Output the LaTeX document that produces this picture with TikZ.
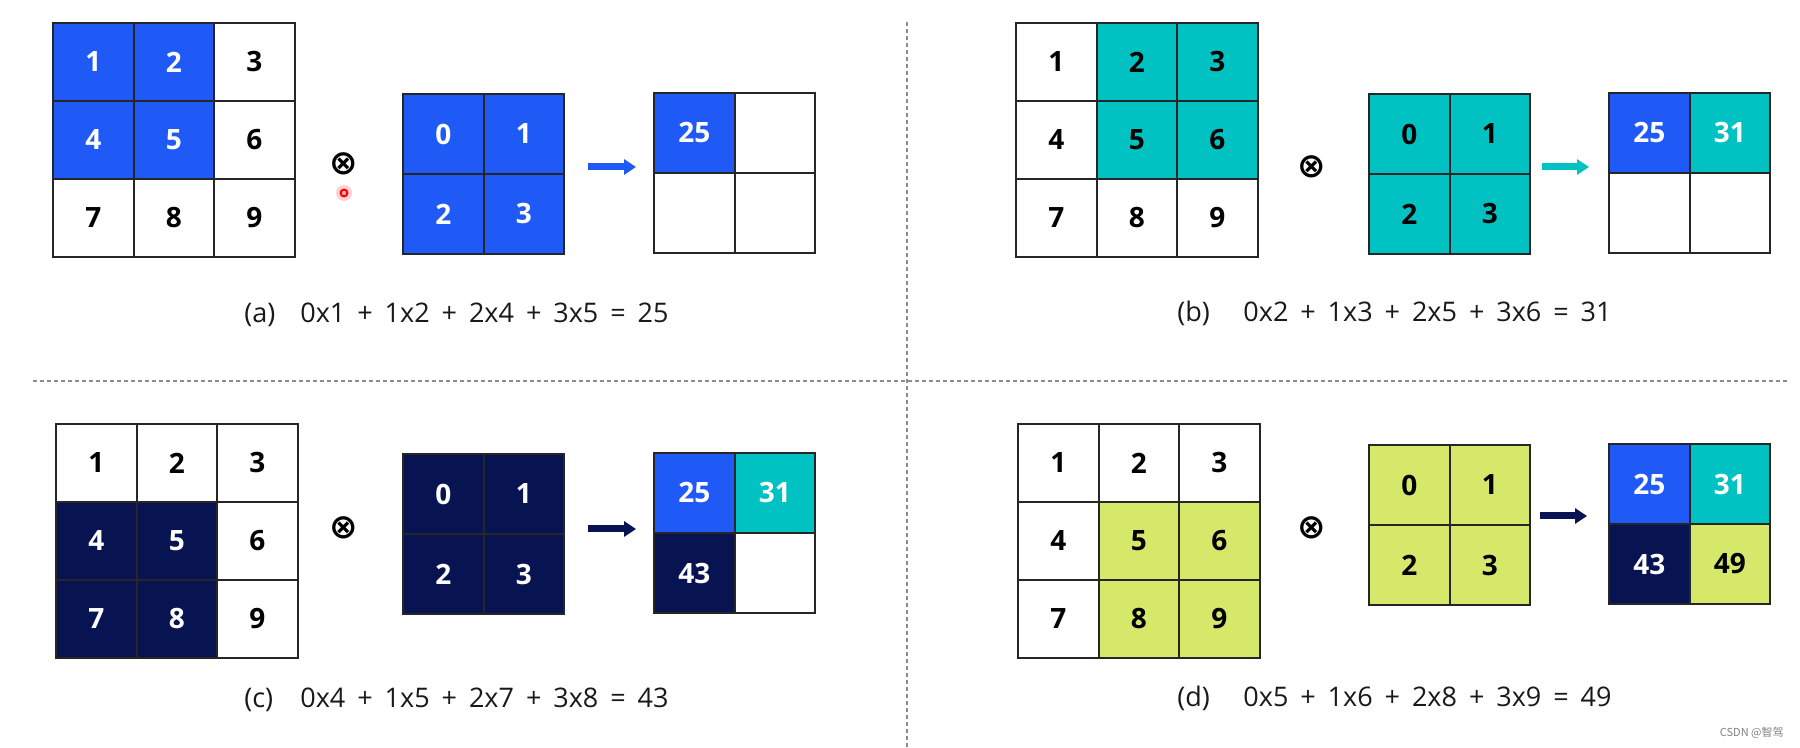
\documentclass[tikz,border=0pt]{standalone}
\usepackage{fontspec}
\setmainfont{Open Sans}
\newfontfamily\symfont{DejaVu Sans}
\newfontfamily\capfont[WordSpace=1.7]{Open Sans}
\newfontfamily\cjk{Noto Sans CJK SC}
\usetikzlibrary{arrows.meta}

\definecolor{cblue}{RGB}{31,90,246}
\definecolor{cteal}{RGB}{0,194,194}
\definecolor{cnavy}{RGB}{8,20,82}
\definecolor{clime}{RGB}{214,232,106}

\tikzset{
  cellbase/.style={draw=black!85, line width=1pt, inner sep=0pt, font=\bfseries\fontsize{14}{16}\selectfont},
  incell/.style={cellbase, minimum width=40.25pt, minimum height=39pt},
  kcell/.style={cellbase, minimum width=40.25pt, minimum height=40pt},
  blank/.style={fill=white, text=black},
  blueon/.style={fill=cblue, text=white},
  tealon/.style={fill=cteal, text=black},
  tealout/.style={fill=cteal, text=white},
  navyon/.style={fill=cnavy, text=white},
  limeon/.style={fill=clime, text=black},
  convarrow/.style={line width=3.5pt, -{Triangle[length=6pt,width=7.5pt]}},
  opsym/.style={font=\symfont\bfseries\fontsize{17}{17}\selectfont, inner sep=0pt},
  halo/.style={circle, fill=red!18, minimum size=8pt, inner sep=0pt},
  cursor/.style={circle, draw=red, fill=red!30, line width=1pt, minimum size=3.4pt, inner sep=0pt},
  captag/.style={anchor=base west, inner sep=0pt, font=\capfont\fontsize{13.5}{15}\selectfont, text=black!90},
  divider/.style={black!45, line width=0.75pt, dash pattern=on 2pt off 1.5pt},
}

\begin{document}
\begin{tikzpicture}[x=0.5pt,y=-0.5pt]
\useasboundingbox (0,0) rectangle (1800,748);
% dividers
\draw[divider] (33,381) -- (1787,381);
\draw[divider] (907,22) -- (907,748);

% (a)
\def\gx{53}\def\gy{23}\def\kx{403}\def\ky{94}\def\ox{654}\def\oy{93}
\foreach \v/\s [count=\i from 0] in {1/blueon,2/blueon,3/blank,4/blueon,5/blueon,6/blank,7/blank,8/blank,9/blank}
  \node[incell,\s] (a-in\v) at ({\gx+(mod(\i,3)+0.5)*80.5},{\gy+(int(\i/3)+0.5)*78}) {\v};
\foreach \v [count=\i from 0] in {0,1,2,3}
  \node[kcell,blueon] (a-k\v) at ({\kx+(mod(\i,2)+0.5)*80.5},{\ky+(int(\i/2)+0.5)*80}) {\v};
\foreach \v/\s [count=\i from 0] in {25/blueon,{}/blank,{}/blank,{}/blank}
  \node[kcell,\s] (a-out\i) at ({\ox+(mod(\i,2)+0.5)*80.5},{\oy+(int(\i/2)+0.5)*80}) {\v};
\node[opsym] (a-op) at (344,164) {⊗};
\node[halo] (a-halo) at (344,193) {};
\node[cursor] (a-dot) at (344,193) {};
\coordinate (a-from) at (588,167);
\coordinate (a-to) at (636,167);
\draw[convarrow,cblue] (a-from) -- (a-to);
\node[captag] (a-tag) at (244,323) {(a)};
\node[captag] (a-eq) at (300,323) {0x1 + 1x2 + 2x4 + 3x5 = 25};

% (b)
\def\gx{1016}\def\gy{23}\def\kx{1369}\def\ky{94}\def\ox{1609}\def\oy{93}
\foreach \v/\s [count=\i from 0] in {1/blank,2/tealon,3/tealon,4/blank,5/tealon,6/tealon,7/blank,8/blank,9/blank}
  \node[incell,\s] (b-in\v) at ({\gx+(mod(\i,3)+0.5)*80.5},{\gy+(int(\i/3)+0.5)*78}) {\v};
\foreach \v [count=\i from 0] in {0,1,2,3}
  \node[kcell,tealon] (b-k\v) at ({\kx+(mod(\i,2)+0.5)*80.5},{\ky+(int(\i/2)+0.5)*80}) {\v};
\foreach \v/\s [count=\i from 0] in {25/blueon,31/tealout,{}/blank,{}/blank}
  \node[kcell,\s] (b-out\i) at ({\ox+(mod(\i,2)+0.5)*80.5},{\oy+(int(\i/2)+0.5)*80}) {\v};
\node[opsym] (b-op) at (1312,167) {⊗};
\coordinate (b-from) at (1542,167);
\coordinate (b-to) at (1589,167);
\draw[convarrow,cteal] (b-from) -- (b-to);
\node[captag] (b-tag) at (1177,322) {(b)};
\node[captag] (b-eq) at (1243,322) {0x2 + 1x3 + 2x5 + 3x6 = 31};

% (c)
\def\gx{56}\def\gy{424}\def\kx{403}\def\ky{454}\def\ox{654}\def\oy{453}
\foreach \v/\s [count=\i from 0] in {1/blank,2/blank,3/blank,4/navyon,5/navyon,6/blank,7/navyon,8/navyon,9/blank}
  \node[incell,\s] (c-in\v) at ({\gx+(mod(\i,3)+0.5)*80.5},{\gy+(int(\i/3)+0.5)*78}) {\v};
\foreach \v [count=\i from 0] in {0,1,2,3}
  \node[kcell,navyon] (c-k\v) at ({\kx+(mod(\i,2)+0.5)*80.5},{\ky+(int(\i/2)+0.5)*80}) {\v};
\foreach \v/\s [count=\i from 0] in {25/blueon,31/tealout,43/navyon,{}/blank}
  \node[kcell,\s] (c-out\i) at ({\ox+(mod(\i,2)+0.5)*80.5},{\oy+(int(\i/2)+0.5)*80}) {\v};
\node[opsym] (c-op) at (344,528) {⊗};
\coordinate (c-from) at (588,529);
\coordinate (c-to) at (636,529);
\draw[convarrow,cnavy] (c-from) -- (c-to);
\node[captag] (c-tag) at (244,707) {(c)};
\node[captag] (c-eq) at (300,707) {0x4 + 1x5 + 2x7 + 3x8 = 43};

% (d)
\def\gx{1018}\def\gy{424}\def\kx{1369}\def\ky{445}\def\ox{1609}\def\oy{444}
\foreach \v/\s [count=\i from 0] in {1/blank,2/blank,3/blank,4/blank,5/limeon,6/limeon,7/blank,8/limeon,9/limeon}
  \node[incell,\s] (d-in\v) at ({\gx+(mod(\i,3)+0.5)*80.5},{\gy+(int(\i/3)+0.5)*78}) {\v};
\foreach \v [count=\i from 0] in {0,1,2,3}
  \node[kcell,limeon] (d-k\v) at ({\kx+(mod(\i,2)+0.5)*80.5},{\ky+(int(\i/2)+0.5)*80}) {\v};
\foreach \v/\s [count=\i from 0] in {25/blueon,31/tealout,43/navyon,49/limeon}
  \node[kcell,\s] (d-out\i) at ({\ox+(mod(\i,2)+0.5)*80.5},{\oy+(int(\i/2)+0.5)*80}) {\v};
\node[opsym] (d-op) at (1312,528) {⊗};
\coordinate (d-from) at (1540,516);
\coordinate (d-to) at (1587,516);
\draw[convarrow,cnavy] (d-from) -- (d-to);
\node[captag] (d-tag) at (1177,706) {(d)};
\node[captag] (d-eq) at (1243,706) {0x5 + 1x6 + 2x8 + 3x9 = 49};

\node[anchor=base east, inner sep=0pt, font=\cjk\fontsize{5.5}{6}\selectfont, text=black!50] (wm) at (1784,736) {CSDN @智驾};
\end{tikzpicture}
\end{document}
